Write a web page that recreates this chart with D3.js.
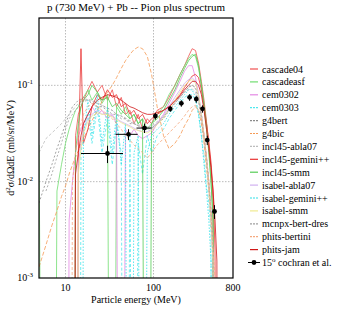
<!DOCTYPE html>
<html>
<head>
<meta charset="utf-8">
<script src="https://cdn.jsdelivr.net/npm/d3@7"></script>
<style>
  body { margin: 0; background: #fff; }
  svg text { font-family: "Liberation Serif", "Times New Roman", Times, "DejaVu Serif", serif !important; }
</style>
</head>
<body>
<div id="chart"></div>
<script>
// Energy grid (MeV) shared by all model curves
const energies = [5, 6, 7, 8, 9, 10, 11, 12, 13, 14, 15, 16, 18, 20, 23, 26, 30, 34, 38, 43, 48, 54, 60, 67, 75,
  85, 95, 110, 130, 150, 175, 200, 225, 250, 275, 300, 325, 350, 375, 400, 425, 450, 475, 500, 525, 550];
const n = null;

// Model curves, d2sigma/dOmega dE (mb/sr/MeV); 0 = empty bin
const cascade04 = [n,n,n,n,n, n,n,0,0.03,0.05, 0.06,0.07,0.09,0.11,0.085, 0.1,0.07,0.09,0.06,0.075,
  0.05,0.055,0.04,0.05,0.035, 0.045,0.04,0.055,0.06,0.075, 0.1,0.13,0.16,0.2,0.24, 0.23,0.17,0.11,0.07,0.042,
  0.025,0.014,0.006,0,0,n];
const cascadeasf = [0.024,0,0,0.008,0.015, 0.025,0.035,0.045,0.055,0.06, 0.07,0.075,0.09,0.07,0.085, 0.065,0.08,0,0.06,0.05,
  0.06,0.045,0.05,0.04,0.045, 0.035,0.04,0.05,0.06,0.08, 0.1,0.13,0.16,0.19,0.21, 0.2,0.15,0.1,0.065,0.04,
  0.022,0.01,0.004,0,0,n];
const cem0302 = [n,n,n,n,n, 0,0.004,0.01,0.02,0.03, 0.035,0.04,0.05,0.06,0.05, 0.055,0.045,0.05,0.04,0,
  0.035,0.03,0.035,0.03,0.028, 0.03,0.032,0.04,0.05,0.065, 0.085,0.11,0.14,0.16,0.16, 0.12,0.08,0.05,0.03,0.018,
  0.01,0.005,0.002,0,n,n];
const cem0303 = [n,n,n,n,n, n,n,n,n,0, 0.02,0.03,0.05,0.025,0.06, 0.02,0.045,0.015,0.04,0.02,
  0,0.03,0,0.025,0.012, 0.03,0.02,0.03,0.035,0.045, 0.055,0.065,0.075,0.08,0.08, 0.07,0.05,0.03,0.018,0.009,
  0.006,0.003,0,n,n,n];
const g4bert = [0.006,0.01,0.015,0.022,0.03, 0.04,0.05,0.06,0.065,0.07, 0.072,0.075,0.07,0.065,0.06, 0.06,0.055,0.05,0.05,0.045,
  0.045,0.04,0.04,0.038,0.036, 0.035,0.036,0.04,0.045,0.055, 0.065,0.075,0.085,0.095,0.1, 0.095,0.075,0.05,0.03,0.018,
  0.01,0.005,0.002,0,n,n];
const g4bic = [0.0013,0.0022,0.0035,0.005,0.007, 0.009,0.012,0.015,0.018,0.021, 0.025,0.028,0.035,0.043,0.055, 0.068,0.085,0.1,0.12,0.15,
  0.18,0.21,0.235,0.25,0.24, 0.2,0.13,0.06,0.03,0.022, 0.025,0.03,0.038,0.045,0.055, 0.06,0.055,0.04,0.025,0.014,
  0.008,0.004,0.0015,0,n,n];
const incl45Abla07 = [0.02,0.028,0.032,0.036,0.04, 0.045,0.05,0.055,0.06,0.065, 0.068,0.07,0.072,0.07,0.066, 0.062,0.058,0.055,0.05,0.048,
  0.046,0.043,0.041,0.039,0.038, 0.037,0.038,0.042,0.048,0.055, 0.065,0.075,0.085,0.09,0.092, 0.085,0.065,0.045,0.028,0.016,
  0.009,0.004,0.0015,0,n,n];
const incl45Gemini = [n,n,n,n,n, n,n,n,0,0.02, 0.24,0.025,0.035,0.06,0.08, 0.07,0.09,0.075,0.08,0.06,
  0.065,0.05,0.055,0.045,0.05, 0.04,0.045,0.05,0.055,0.06, 0.07,0.08,0.095,0.11,0.125, 0.13,0.12,0.09,0.06,0.04,
  0.026,0.016,0.008,0.002,0,n];
const incl45Smm = [n,n,n,n,n, n,n,0,0.02,0.04, 0.06,0.07,0.08,0.1,0.085, 0.07,0.075,0.06,0.065,0.055,
  0.05,0.045,0.05,0.04,0.045, 0,0.04,0.045,0.055,0.07, 0.09,0.12,0.15,0.18,0.2, 0.21,0.16,0.1,0.06,0.035,
  0.02,0.01,0.004,0,n,n];
const isabelAbla07 = [n,n,n,n,n, n,n,n,0,0.015, 0.025,0.035,0.045,0.05,0.055, 0.05,0.052,0.048,0.045,0.042,
  0.04,0.038,0.036,0.034,0.033, 0.033,0.035,0.04,0.048,0.06, 0.075,0.09,0.105,0.115,0.12, 0.11,0.08,0.05,0.03,0.017,
  0.009,0.004,0.0015,0,n,n];
const isabelGemini = [n,n,n,n,n, n,n,n,n,n, 0,0.03,0.07,0.03,0.08, 0.025,0.06,0.02,0.05,0.015,
  0.04,0,0.02,0.03,0, 0.02,0.03,0.035,0.04,0.05, 0.06,0.07,0.08,0.09,0.09, 0.075,0.05,0.03,0.015,0.008,
  0.004,0.0015,0,n,n,n];
const isabelSmm = [n,n,n,n,n, n,n,n,0,0.012, 0.022,0.032,0.042,0.048,0.052, 0.05,0.05,0.047,0.044,0.041,
  0.039,0.037,0.035,0.034,0.033, 0.032,0.034,0.039,0.046,0.057, 0.07,0.085,0.1,0.11,0.115, 0.105,0.078,0.05,0.03,0.017,
  0.009,0.004,0.0015,0,n,n];
const mcnpxBertDres = [n,0.008,0.012,0.018,0.025, 0.035,0.045,0.05,0.055,0.06, 0.065,0.068,0.07,0.068,0.065, 0.062,0.058,0.055,0.05,0.048,
  0.045,0.042,0.04,0.038,0.037, 0.036,0.037,0.04,0.047,0.056, 0.066,0.076,0.087,0.096,0.1, 0.092,0.07,0.046,0.028,0.016,
  0.009,0.0045,0.0018,0,n,n];
const phitsBertini = [n,n,n,n,n, n,0,0.01,0.02,0.03, 0.04,0.05,0.06,0.065,0.06, 0.055,0.05,0.045,0.04,0.035,
  0.03,0.027,0.024,0.022,0.02, 0.0175,0.02,0.024,0.028,0.032, 0.037,0.042,0.048,0.055,0.06, 0.062,0.055,0.045,0.03,0.018,
  0.01,0.005,0.002,0.001,0,n];
const phitsJam = [n,n,n,n,n, n,n,0,0.012,0.02, 0.03,0.04,0.05,0.06,0.07, 0.075,0.08,0.078,0.075,0.07,
  0.065,0.06,0.058,0.055,0.052, 0.05,0.05,0.052,0.055,0.06, 0.068,0.078,0.09,0.1,0.11, 0.11,0.1,0.08,0.055,0.035,
  0.022,0.014,0.008,0.004,0.0015,0];

// Measured points, 15 deg, Cochran et al.
const cochranE = [30, 52, 79, 105, 155, 207, 257, 306, 360, 408, 493];
const cochranELo = [15, 37, 64, 100, 150, 201, 251, 300, 353, 402, 486];
const cochranEHi = [45, 66, 95, 110, 160, 213, 263, 312, 367, 414, 500];
const cochranV = [0.0196, 0.031, 0.036, 0.048, 0.057, 0.065, 0.075, 0.072, 0.057, 0.027, 0.0049];
const cochranErr = [0.004, 0.004, 0.004, 0.004, 0.004, 0.005, 0.006, 0.006, 0.005, 0.003, 0.0008];

const seriesNames = ["cascade04", "cascadeasf", "cem0302", "cem0303", "g4bert", "g4bic", "incl45-abla07",
  "incl45-gemini++", "incl45-smm", "isabel-abla07", "isabel-gemini++", "isabel-smm", "mcnpx-bert-dres",
  "phits-bertini", "phits-jam"];
const seriesValues = [cascade04, cascadeasf, cem0302, cem0303, g4bert, g4bic, incl45Abla07, incl45Gemini,
  incl45Smm, isabelAbla07, isabelGemini, isabelSmm, mcnpxBertDres, phitsBertini, phitsJam];
const seriesColors = ["#f05050", "#70dd70", "#e488e4", "#50e8ee", "#8a8a8a", "#f59a55", "#bdbdbd",
  "#e83030", "#55cc55", "#d0b0f0", "#30e0e8", "#f0ea90", "#a0a0a0", "#f5aa80", "#d01818"];
const seriesDash = [null, null, null, "3,2", "2,2", "4,2", "3,2", null, null, null, "1.5,1.5", null, "2,2", "3,2", null];

const W = 337, H = 311;
const margin = {top: 18, right: 104, bottom: 33, left: 39};
const width = W - margin.left - margin.right,
      height = H - margin.top - margin.bottom;

const svg = d3.select("#chart").append("svg")
    .attr("width", W)
    .attr("height", H);

const g = svg.append("g")
    .attr("transform", `translate(${margin.left},${margin.top})`);

const x = d3.scaleLog().domain([5, 800]).range([0, width]);
const y = d3.scaleLog().domain([1e-3, 0.5]).range([height, 0]);

// grid
g.selectAll("line.vgrid")
  .data([10, 100])
  .enter().append("line")
  .attr("x1", d => x(d)).attr("x2", d => x(d))
  .attr("y1", 0).attr("y2", height)
  .style("stroke", "#aaa").style("stroke-width", 0.8).style("stroke-dasharray", "1.5,1.5");
g.selectAll("line.hgrid")
  .data([0.1, 0.01])
  .enter().append("line")
  .attr("y1", d => y(d)).attr("y2", d => y(d))
  .attr("x1", 0).attr("x2", width)
  .style("stroke", "#aaa").style("stroke-width", 0.8).style("stroke-dasharray", "1.5,1.5");

g.append("clipPath").attr("id", "clip")
  .append("rect").attr("width", width).attr("height", height);

const plot = g.append("g").attr("clip-path", "url(#clip)");

// empty bins fall far below the axis
const line = d3.line()
    .defined(d => d[1] !== null)
    .x(d => x(d[0]))
    .y(d => y(d[1] > 0 ? d[1] : 1e-12));

seriesValues.forEach((vals, i) => {
  plot.append("path")
    .datum(energies.map((e, k) => [e, vals[k]]))
    .attr("d", line)
    .attr("fill", "none")
    .attr("stroke", seriesColors[i])
    .attr("stroke-width", 0.8)
    .attr("stroke-dasharray", seriesDash[i]);
});

// data points with error bars
const pts = plot.selectAll("g.pt")
  .data(cochranE.map((e, i) => ({e, lo: cochranELo[i], hi: cochranEHi[i], v: cochranV[i], err: cochranErr[i]})))
  .enter().append("g");
pts.append("line")
  .attr("x1", d => x(d.lo)).attr("x2", d => x(d.hi))
  .attr("y1", d => y(d.v)).attr("y2", d => y(d.v))
  .attr("stroke", "#000").attr("stroke-width", 1);
pts.append("line")
  .attr("x1", d => x(d.e)).attr("x2", d => x(d.e))
  .attr("y1", d => y(d.v - d.err)).attr("y2", d => y(d.v + d.err))
  .attr("stroke", "#000").attr("stroke-width", 1);
pts.append("circle")
  .attr("cx", d => x(d.e)).attr("cy", d => y(d.v))
  .attr("r", 2.4).attr("fill", "#000");

// frame
g.append("rect")
  .attr("width", width).attr("height", height)
  .attr("fill", "none").attr("stroke", "#000").attr("stroke-width", 1.2);

// x tick labels
const xTicks = [10, 100, 800];
g.selectAll("text.xt")
  .data(xTicks)
  .enter().append("text")
  .attr("x", d => x(d)).attr("y", height + 13)
  .attr("text-anchor", "middle")
  .attr("font-size", 10)
  .text(d => d);

// y tick labels
const yTicks = [0.001, 0.01, 0.1];
const yTickExp = ["-3", "-2", "-1"];
yTicks.forEach((t, i) => {
  const txt = g.append("text")
    .attr("x", -6).attr("y", y(t) + 3)
    .attr("text-anchor", "end")
    .attr("font-size", 10);
  txt.append("tspan").text("10");
  txt.append("tspan").attr("dy", -4).attr("font-size", 7).text(yTickExp[i]);
});

// title and axis labels
svg.append("text")
  .attr("x", margin.left + width / 2).attr("y", 11)
  .attr("text-anchor", "middle")
  .attr("font-size", 11)
  .text("p (730 MeV) + Pb -- Pion plus spectrum");

svg.append("text")
  .attr("x", margin.left + width / 2).attr("y", 303)
  .attr("text-anchor", "middle")
  .attr("font-size", 10)
  .text("Particle energy (MeV)");

const yl = svg.append("text")
  .attr("transform", `translate(14,${margin.top + height / 2}) rotate(-90)`)
  .attr("text-anchor", "middle")
  .attr("font-size", 10);
yl.append("tspan").text("d");
yl.append("tspan").attr("dy", -4).attr("font-size", 7).text("2");
yl.append("tspan").attr("dy", 4).text("σ/dΩdE (mb/sr/MeV)");

// legend
const legX = 250, legY = 69, legStep = 12.9;
const leg = svg.append("g");
seriesNames.forEach((name, i) => {
  const yy = legY + i * legStep;
  leg.append("line")
    .attr("x1", legX).attr("x2", legX + 8)
    .attr("y1", yy).attr("y2", yy)
    .attr("stroke", seriesColors[i]).attr("stroke-width", 1.2)
    .attr("stroke-dasharray", seriesDash[i] ? "2,1" : null);
  leg.append("text")
    .attr("x", legX + 12).attr("y", yy + 3.5)
    .attr("font-size", 10)
    .text(name);
});
const cy = legY + seriesNames.length * legStep;
leg.append("line").attr("x1", legX - 2).attr("x2", legX + 10).attr("y1", cy).attr("y2", cy)
  .attr("stroke", "#000").attr("stroke-width", 1);
leg.append("circle").attr("cx", legX + 4).attr("cy", cy).attr("r", 2.4).attr("fill", "#000");
const ct = leg.append("text").attr("x", legX + 12).attr("y", cy + 3.5).attr("font-size", 10);
ct.append("tspan").text("15");
ct.append("tspan").attr("dy", -4).attr("font-size", 7).text("o");
ct.append("tspan").attr("dy", 4).text(" cochran et al.");
</script>
</body>
</html>
